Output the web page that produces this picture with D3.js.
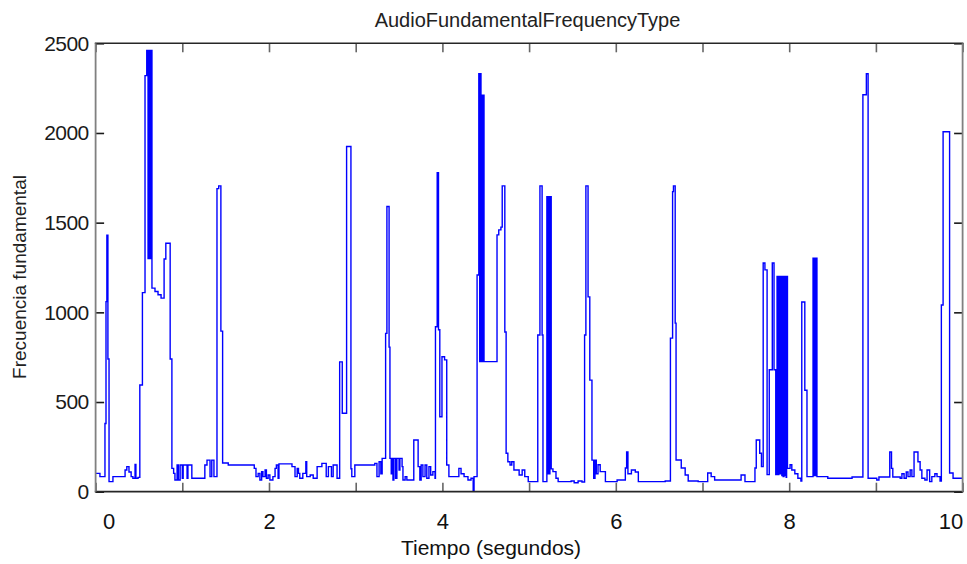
<!DOCTYPE html>
<html>
<head>
<meta charset="utf-8">
<script src="https://cdn.jsdelivr.net/npm/d3@7"></script>
<style>
body { margin: 0; background: #fff; }
text { font-family: Arial, "Liberation Sans", sans-serif; }
</style>
</head>
<body>
<div id="chart"></div>
<script>
// contorno de frecuencia fundamental: [tiempo (s), frecuencia (Hz)], escalonado
var muestras = [
  [0.00, 102], [0.05, 84], [0.108, 380], [0.12, 1060], [0.13, 1430], [0.142, 740], [0.155, 56],
  [0.20, 84], [0.34, 121], [0.36, 140], [0.385, 110], [0.41, 84], [0.43, 75], [0.455, 152],
  [0.465, 75], [0.49, 80], [0.51, 595], [0.54, 1110], [0.57, 2320], [0.59, 2460], [0.605, 1300],
  [0.61, 2460], [0.615, 1300], [0.62, 2460], [0.627, 1300], [0.633, 2460], [0.64, 1300],
  [0.645, 2460], [0.65, 1135], [0.685, 1116], [0.72, 1098], [0.755, 1079], [0.79, 1297],
  [0.81, 1385], [0.86, 740], [0.88, 130], [0.90, 102], [0.915, 65], [0.94, 149], [0.955, 65],
  [0.975, 149], [1.00, 75], [1.01, 149], [1.055, 75], [1.065, 149], [1.11, 75], [1.26, 149],
  [1.285, 176], [1.32, 84], [1.34, 176], [1.365, 84], [1.40, 1690], [1.42, 1705], [1.445, 895],
  [1.465, 160], [1.53, 149], [1.83, 130], [1.85, 84], [1.875, 102], [1.895, 65], [1.915, 112],
  [1.93, 84], [1.955, 121], [1.97, 75], [1.99, 93], [2.01, 65], [2.045, 84], [2.07, 130],
  [2.085, 149], [2.105, 75], [2.115, 155], [2.265, 140], [2.30, 84], [2.325, 130], [2.34, 102],
  [2.355, 75], [2.39, 102], [2.425, 167], [2.435, 84], [2.475, 93], [2.51, 75], [2.555, 140],
  [2.61, 158], [2.66, 84], [2.685, 140], [2.72, 84], [2.74, 149], [2.785, 75], [2.815, 724],
  [2.845, 437], [2.895, 1925], [2.945, 128], [2.955, 84], [2.99, 149], [3.22, 158], [3.245, 84],
  [3.27, 167], [3.29, 100], [3.305, 186], [3.345, 883], [3.36, 1590], [3.385, 806], [3.395, 186],
  [3.41, 100], [3.42, 186], [3.43, 65], [3.44, 186], [3.46, 75], [3.475, 186], [3.50, 121],
  [3.51, 186], [3.535, 140], [3.545, 65], [3.57, 84], [3.59, 65], [3.67, 288], [3.72, 140],
  [3.74, 65], [3.755, 149], [3.775, 84], [3.80, 149], [3.82, 75], [3.845, 140], [3.865, 93],
  [3.89, 112], [3.915, 75], [3.92, 920], [3.94, 1778], [3.955, 903], [3.97, 418], [3.995, 752],
  [4.025, 735], [4.05, 149], [4.075, 84], [4.19, 130], [4.215, 100], [4.25, 84], [4.295, 65],
  [4.33, 75], [4.355, 5], [4.365, 84], [4.40, 1208], [4.42, 2330], [4.43, 725], [4.435, 2330],
  [4.445, 725], [4.453, 2210], [4.46, 725], [4.47, 2210], [4.48, 725], [4.63, 1432], [4.65, 1460],
  [4.675, 1475], [4.69, 1705], [4.72, 890], [4.735, 214], [4.755, 167], [4.78, 149], [4.80, 167],
  [4.825, 121], [4.885, 93], [4.92, 121], [4.95, 84], [4.99, 56], [5.10, 874], [5.125, 1705],
  [5.15, 874], [5.16, 56], [5.205, 1645], [5.22, 100], [5.225, 1645], [5.235, 100], [5.24, 1645],
  [5.255, 127], [5.275, 112], [5.31, 75], [5.335, 56], [5.485, 60], [5.52, 50], [5.565, 60],
  [5.61, 54], [5.64, 874], [5.655, 1705], [5.68, 1086], [5.70, 622], [5.725, 176], [5.745, 75],
  [5.76, 176], [5.775, 100], [5.795, 150], [5.82, 112], [5.88, 56], [6.015, 65], [6.11, 132],
  [6.125, 221], [6.14, 100], [6.18, 121], [6.225, 110], [6.26, 56], [6.57, 60], [6.63, 856],
  [6.655, 1673], [6.665, 1705], [6.685, 940], [6.695, 177], [6.755, 132], [6.80, 93], [6.835, 60],
  [6.95, 56], [7.06, 104], [7.10, 84], [7.14, 65], [7.445, 93], [7.49, 56], [7.605, 132],
  [7.62, 288], [7.66, 214], [7.68, 140], [7.70, 1275], [7.72, 1237], [7.745, 95], [7.77, 680],
  [7.805, 1275], [7.825, 680], [7.845, 95], [7.86, 1200], [7.87, 95], [7.88, 1200], [7.895, 100],
  [7.905, 1200], [7.915, 90], [7.925, 1200], [7.93, 85], [7.94, 1200], [7.95, 90], [7.955, 1200],
  [7.965, 80], [7.97, 1200], [7.98, 130], [8.01, 150], [8.03, 121], [8.065, 100], [8.10, 75],
  [8.135, 60], [8.145, 1058], [8.18, 566], [8.205, 84], [8.275, 1302], [8.285, 90], [8.295, 1302],
  [8.305, 90], [8.31, 1302], [8.32, 84], [8.445, 75], [8.725, 82], [8.85, 2213], [8.875, 2213],
  [8.89, 2330], [8.90, 2330], [8.91, 75], [9.01, 65],
  [9.035, 82], [9.16, 221], [9.18, 130], [9.195, 82], [9.28, 75], [9.30, 100], [9.325, 75],
  [9.35, 110], [9.37, 84], [9.395, 121], [9.415, 84], [9.44, 221], [9.485, 167], [9.51, 121],
  [9.53, 75], [9.565, 65], [9.59, 121], [9.62, 56], [9.645, 84], [9.68, 100], [9.705, 84],
  [9.74, 60], [9.755, 1041], [9.775, 2007], [9.85, 104], [9.89, 75], [10.0, 75]
];

var xTicks = [0, 1, 2, 3, 4, 5, 6, 7, 8, 9, 10];
var xLabels = [0, 2, 4, 6, 8, 10];
var yTicks = [0, 500, 1000, 1500, 2000, 2500];

var width = 967,
    height = 564,
    plotLeft = 95.6,
    plotRight = 962.6,
    plotTop = 43.3,
    plotBottom = 491.7,
    lineColor = "rgb(0, 0, 255)",
    frameDark = "#262626",
    frameGray = "#808080";

var svg = d3.select("#chart")
    .append("svg")
    .attr("width", width)
    .attr("height", height);

var x = d3.scaleLinear().domain([0, 10]).range([plotLeft, plotRight]);
var y = d3.scaleLinear().domain([0, 2500]).range([plotBottom, plotTop]);

svg.append("defs").append("clipPath")
    .attr("id", "plotClip")
    .append("rect")
    .attr("x", plotLeft)
    .attr("y", plotTop - 2)
    .attr("width", plotRight - plotLeft)
    .attr("height", plotBottom - plotTop + 2);

var line = d3.line()
    .x(d => x(d[0]))
    .y(d => y(d[1]))
    .curve(d3.curveStepAfter);

svg.append("path")
    .datum(muestras)
    .attr("clip-path", "url(#plotClip)")
    .attr("d", line)
    .style("fill", "none")
    .style("stroke", lineColor)
    .style("stroke-width", "1.4px");

// ejes
var xBottom = svg.append("g")
    .attr("transform", "translate(0," + plotBottom + ")")
    .call(d3.axisBottom(x).tickValues(xTicks).tickSizeInner(-9).tickSizeOuter(0)
        .tickFormat(d => xLabels.indexOf(d) >= 0 ? d : ""));

var xTop = svg.append("g")
    .attr("transform", "translate(0," + plotTop + ")")
    .call(d3.axisTop(x).tickValues(xTicks).tickSizeInner(-9).tickSizeOuter(0).tickFormat(""));

var yLeft = svg.append("g")
    .attr("transform", "translate(" + plotLeft + ",0)")
    .call(d3.axisLeft(y).tickValues(yTicks).tickSizeInner(-8.5).tickSizeOuter(0)
        .tickFormat(d3.format("d")));

var yRight = svg.append("g")
    .attr("transform", "translate(" + plotRight + ",0)")
    .call(d3.axisRight(y).tickValues(yTicks).tickSizeInner(-8.5).tickSizeOuter(0).tickFormat(""));

[xBottom, xTop, yLeft, yRight].forEach(function (g) {
    g.select(".domain").remove();
});

[xBottom, xTop].forEach(function (g) {
    g.selectAll(".tick line")
        .style("stroke", "#666666")
        .style("stroke-width", "1.6px");
});

[yLeft, yRight].forEach(function (g) {
    g.selectAll(".tick line")
        .style("stroke", "#1a1a1a")
        .style("stroke-width", "1.6px");
});

xBottom.selectAll(".tick text")
    .attr("y", 22)
    .style("fill", "#111")
    .style("font-size", "22px")
    .attr("dx", d => d == 0 ? 13 : (d == 10 ? -12 : 0));

yLeft.selectAll(".tick text")
    .attr("x", -7)
    .style("fill", "#1a1a1a")
    .style("font-size", "21px")
    .style("letter-spacing", "-0.6px");

// marco
svg.append("line")
    .attr("x1", plotLeft - 0.8).attr("x2", plotRight + 0.8)
    .attr("y1", plotTop).attr("y2", plotTop)
    .style("stroke", frameDark).style("stroke-width", "1.6px");

svg.append("line")
    .attr("x1", plotLeft - 0.8).attr("x2", plotRight + 0.8)
    .attr("y1", plotBottom).attr("y2", plotBottom)
    .style("stroke", frameDark).style("stroke-width", "1.8px");

svg.append("line")
    .attr("x1", plotLeft).attr("x2", plotLeft)
    .attr("y1", plotTop).attr("y2", plotBottom)
    .style("stroke", frameGray).style("stroke-width", "1.8px");

svg.append("line")
    .attr("x1", plotRight).attr("x2", plotRight)
    .attr("y1", plotTop).attr("y2", plotBottom)
    .style("stroke", frameGray).style("stroke-width", "1.8px");

// textos
svg.append("text")
    .attr("x", 527.5)
    .attr("y", 27)
    .attr("text-anchor", "middle")
    .style("font-size", "20px")
    .style("fill", "#222")
    .text("AudioFundamentalFrequencyType");

svg.append("text")
    .attr("x", 491)
    .attr("y", 555)
    .attr("text-anchor", "middle")
    .style("font-size", "21px")
    .style("fill", "#111")
    .text("Tiempo (segundos)");

svg.append("text")
    .attr("transform", "translate(26,277) rotate(-90)")
    .attr("text-anchor", "middle")
    .style("font-size", "19px")
    .style("fill", "#222")
    .text("Frecuencia fundamental");
</script>
</body>
</html>
